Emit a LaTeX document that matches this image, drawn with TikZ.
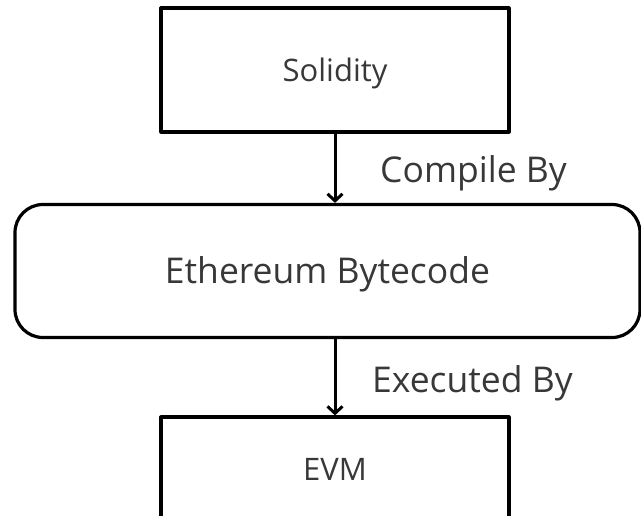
\documentclass[tikz,border=0pt]{standalone}
\usepackage{fontspec}
\setmainfont{Open Sans}
\usetikzlibrary{arrows.meta,positioning}
\begin{document}
\begin{tikzpicture}[x=1pt, y=-1pt, line join=round, line cap=round, >={Straight Barb[length=7pt,width=15pt]},
		box/.style={draw, line width=3.2pt, text=black!78, text height=22pt, text depth=0pt, inner sep=0pt, font=\fontsize{31}{36}\selectfont},
		lbl/.style={text=black!78, inner sep=0pt, anchor=base west, font=\fontsize{35.5}{40}\selectfont}]
	\useasboundingbox (0,0) rectangle (641,515);
	\clip (0,0) rectangle (641,515);
	\node[box, minimum width=348pt, minimum height=124pt] (sol) at (335,70) {Solidity};
	\node[box, rounded corners=28pt, minimum width=625pt, minimum height=133pt, text height=25.3pt, font=\fontsize{35.5}{40}\selectfont] (ebc) at (327.5,271) {Ethereum Bytecode};
	\node[box, minimum width=348pt, minimum height=104pt] (evm) at (335,469) {EVM};
	\draw[->, line width=3pt] (sol.south) -- (sol.south |- ebc.north);
	\draw[->, line width=3pt] (ebc.south -| evm.north) -- (evm.north);
	\node[lbl] (compile) at (380,182) {Compile By};
	\node[lbl] (executed) at (372,392) {Executed By};
\end{tikzpicture}
\end{document}
